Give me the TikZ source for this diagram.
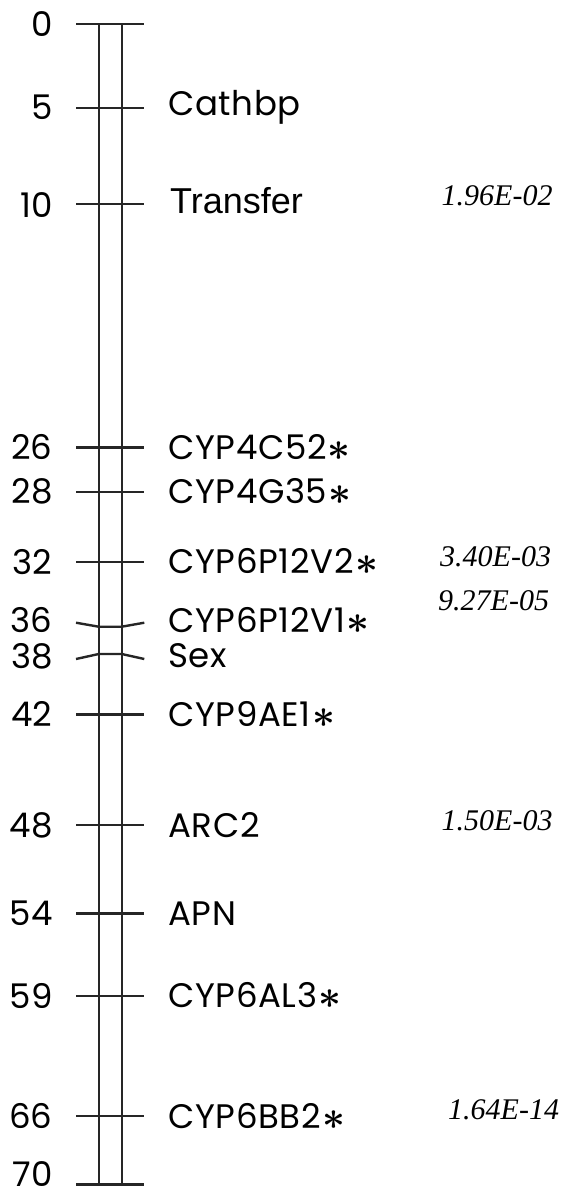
\documentclass[tikz,border=0pt]{standalone}
\usepackage{fontspec}
\setmainfont{Poppins}
\newfontfamily\locfont{Poppins}[LetterSpace=2]
\newfontfamily\pvfont{Liberation Serif}
\newfontfamily\arialfont{Liberation Sans}
\newcommand\astmark{\kern0.04em\raisebox{-0.03em}{\scalebox{1.6}{$\boldsymbol{\ast}$}}}
\usepackage{amsmath}
\begin{document}
\begin{tikzpicture}[x=1pt,y=-1pt,
  chrom/.style={line width=2.4pt,draw=black!85},
  cmnum/.style={anchor=east,inner sep=0pt,font=\fontsize{34}{34}\selectfont},
  locus/.style={anchor=west,inner sep=0pt,font=\locfont\fontsize{34}{34}\selectfont},
  pval/.style={anchor=west,inner sep=0pt,font=\pvfont\itshape\fontsize{30}{30}\selectfont}]
\useasboundingbox (0,0) rectangle (564,1199);
% chromosome bar
\coordinate (topL) at (98.7,24.3);
\coordinate (topR) at (121.7,24.3);
\coordinate (botL) at (98.7,1184.3);
\coordinate (botR) at (121.7,1184.3);
\draw[chrom] (topL) -- (botL);
\draw[chrom] (topR) -- (botR);
% straight ticks: name / y / position / locus
\foreach \n/\y/\p/\l in {a/24.3/0/,b/107.7/5/Cathbp,d/447.3/26/CYP4C52\astmark,e/491.7/28/CYP4G35\astmark,
    f/561.7/32/CYP6P12V2\astmark,i/714.3/42/CYP9AE1\astmark,j/825/48/ARC2,k/913.3/54/APN,
    l/995.7/59/CYP6AL3\astmark,m/1116/66/CYP6BB2\astmark}{
  \coordinate (\n w) at (76,\y);
  \coordinate (\n e) at (144.3,\y);
  \draw[chrom] (\n w) -- (\n e);
  \node[cmnum] (\n num) at (52.7,\y) {\p};
  \node[locus] (\n lab) at (168,\y) {\l};
}
% bottom end of the bar
\coordinate (nw) at (76,1184.3);
\coordinate (ne) at (144.3,1184.3);
\draw[chrom] (nw) -- (ne);
\node[cmnum] (nnum) at (52.7,1174) {70};
% locus set in a different face
\coordinate (cw) at (76,203.7);
\coordinate (ce) at (144.3,203.7);
\draw[chrom] (cw) -- (ce);
\node[cmnum] (cnum) at (52.7,205) {10};
\node[anchor=west,inner sep=0pt,font=\arialfont\fontsize{36}{36}\selectfont] (clab) at (170,201) {Transfer};
% bent ticks for the close pair
\coordinate (gw) at (76,622.7);
\coordinate (gl) at (98.7,626.7);
\coordinate (gr) at (121.7,626.7);
\coordinate (ge) at (144.3,622.7);
\draw[chrom] (gw) -- (gl) -- (gr) -- (ge);
\node[cmnum] (gnum) at (52.7,620) {36};
\node[locus] (glab) at (168,620) {CYP6P12V1\astmark};
\coordinate (hw) at (76,659);
\coordinate (hl) at (98.7,654);
\coordinate (hr) at (121.7,654);
\coordinate (he) at (144.3,659);
\draw[chrom] (hw) -- (hl) -- (hr) -- (he);
\node[cmnum] (hnum) at (52.7,656) {38};
\node[locus] (hlab) at (168,656) {Sex};
% p-values
\node[pval] (pc) at (441.5,196) {1.96E-02};
\node[pval] (pf) at (440,557) {3.40E-03};
\node[pval] (pg) at (438,601) {9.27E-05};
\node[pval] (pj) at (441.5,821) {1.50E-03};
\node[pval] (pm) at (448,1110) {1.64E-14};
\end{tikzpicture}
\end{document}
